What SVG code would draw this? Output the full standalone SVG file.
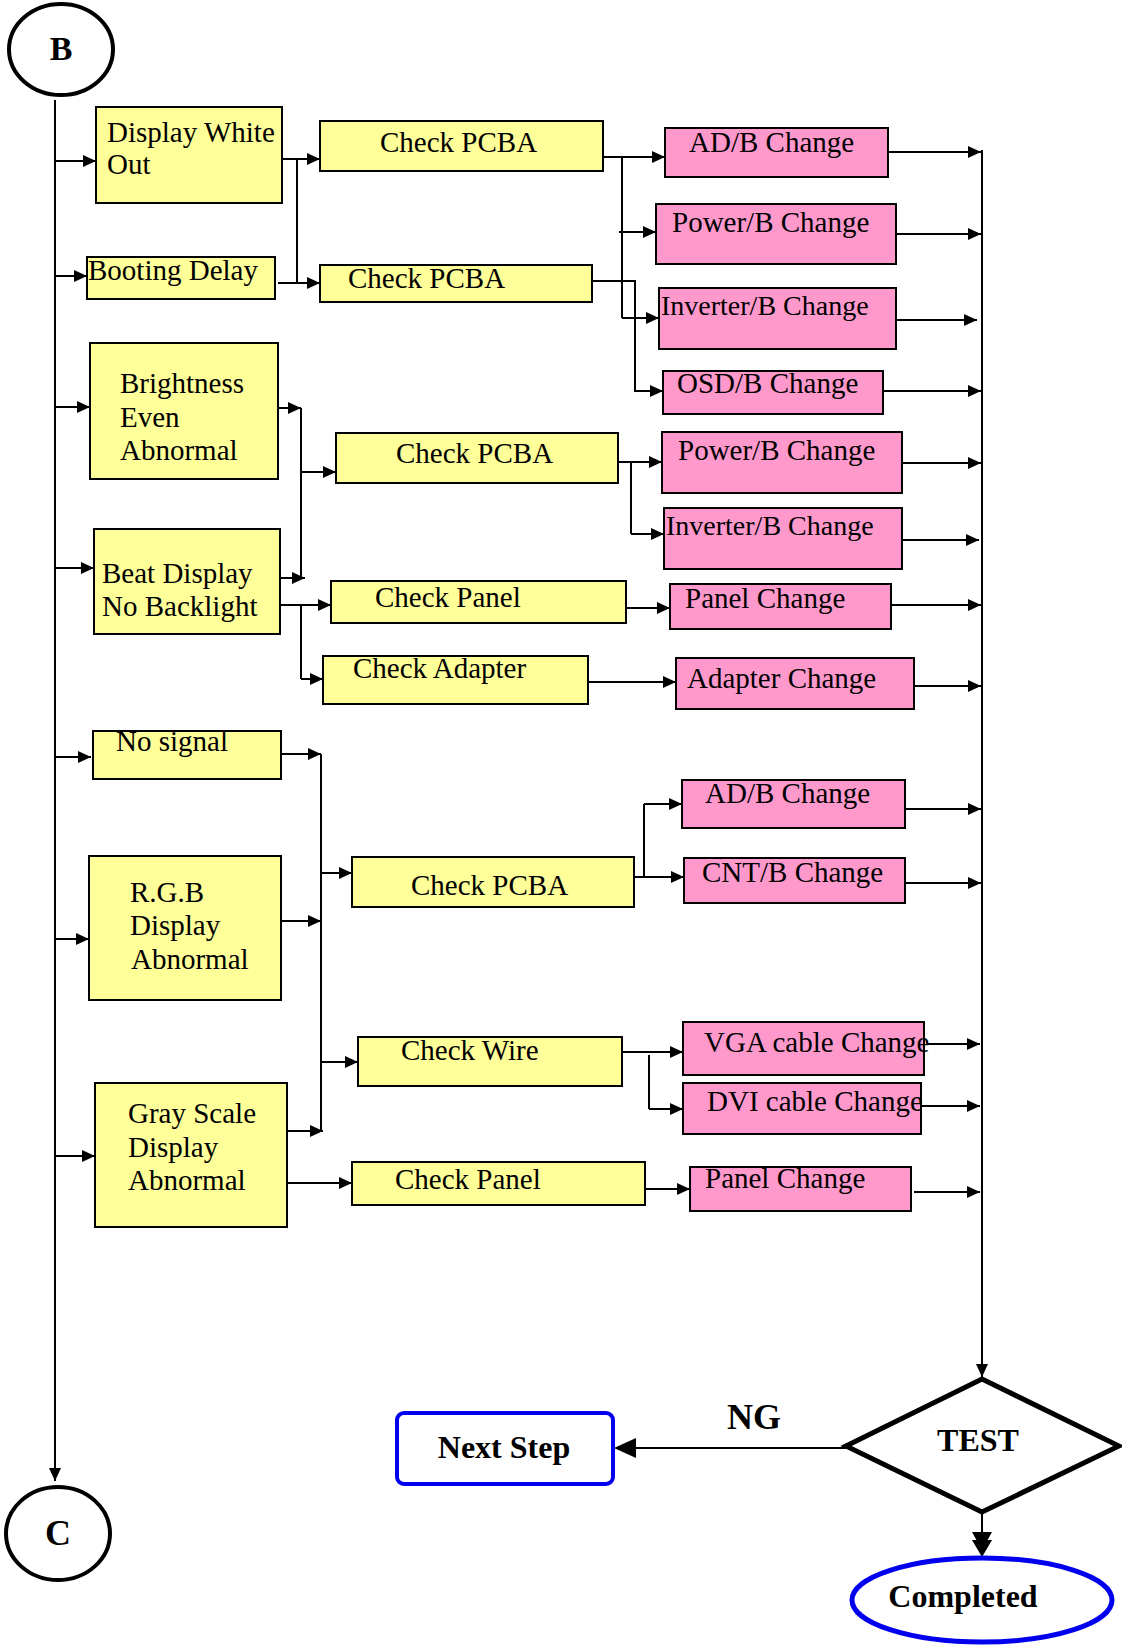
<svg xmlns="http://www.w3.org/2000/svg" width="1122" height="1645" viewBox="0 0 1122 1645">
<style>
.y{fill:#ffff99;stroke:#000;stroke-width:2}
.p{fill:#ff99cc;stroke:#000;stroke-width:2}
.t{font-family:"Liberation Serif","Times New Roman",serif;font-size:29px;fill:#000}
.s{font-size:28px}
.b{font-family:"Liberation Serif","Times New Roman",serif;font-weight:bold;fill:#000}
.c{fill:none;stroke:#000;stroke-width:2}
.a{fill:none;stroke:#000;stroke-width:2;marker-end:url(#ah)}
</style>
<defs>
<marker id="ah" markerUnits="userSpaceOnUse" markerWidth="13" markerHeight="12" refX="13" refY="6" orient="auto">
<path d="M0,0 L13,6 L0,12 z" fill="#000"/>
</marker>
</defs>
<rect width="1122" height="1645" fill="#fff"/>

<g id="connectors">
<path class="a" d="M55,100 V1481"/>
<path class="a" d="M55,161 H96"/>
<path class="a" d="M55,276 H87"/>
<path class="a" d="M55,407 H90"/>
<path class="a" d="M55,568 H94"/>
<path class="a" d="M55,757 H91"/>
<path class="a" d="M55,939 H89"/>
<path class="a" d="M55,1156 H95"/>
<path class="a" d="M280,159 H320"/>
<path class="c" d="M297,159 V283"/>
<path class="a" d="M278,283 H320"/>
<path class="a" d="M603,157 H665"/>
<path class="c" d="M622,157 V318"/>
<path class="a" d="M619,232 H656"/>
<path class="a" d="M622,318 H659"/>
<path class="a" d="M592,281 H635 V391 H663"/>
<path class="a" d="M272,408 H301"/>
<path class="c" d="M301,408 V578"/>
<path class="a" d="M301,472 H336"/>
<path class="a" d="M280,578 H305"/>
<path class="a" d="M280,605 H331"/>
<path class="c" d="M301,605 V679"/>
<path class="a" d="M301,679 H323"/>
<path class="a" d="M618,462 H662"/>
<path class="c" d="M631,462 V534"/>
<path class="a" d="M631,534 H664"/>
<path class="a" d="M626,608 H670"/>
<path class="a" d="M588,682 H676"/>
<path class="a" d="M278,754 H321"/>
<path class="c" d="M321,754 V1132"/>
<path class="a" d="M321,873 H352"/>
<path class="a" d="M281,921 H321"/>
<path class="a" d="M321,1062 H358"/>
<path class="a" d="M283,1131 H323"/>
<path class="a" d="M285,1183 H352"/>
<path class="a" d="M634,877 H684"/>
<path class="c" d="M644,877 V804"/>
<path class="a" d="M644,804 H682"/>
<path class="a" d="M622,1052 H683"/>
<path class="c" d="M649,1055 V1109"/>
<path class="a" d="M649,1109 H683"/>
<path class="a" d="M646,1189 H690"/>
<path class="a" d="M888,152 H981"/>
<path class="a" d="M896,234 H981"/>
<path class="a" d="M896,320 H977"/>
<path class="a" d="M883,391 H981"/>
<path class="a" d="M902,463 H981"/>
<path class="a" d="M902,540 H979"/>
<path class="a" d="M892,605 H981"/>
<path class="a" d="M912,686 H981"/>
<path class="a" d="M905,809 H981"/>
<path class="a" d="M905,883 H981"/>
<path class="a" d="M927,1044 H980"/>
<path class="a" d="M921,1106 H980"/>
<path class="a" d="M914,1192 H980"/>
<path class="a" d="M982,150 V1377"/>
<path class="c" d="M846,1448 H630"/>
<path d="M614,1448 L636,1438 L636,1458 z" fill="#000"/>
<path class="c" d="M982,1512 V1540"/>
<path d="M972,1532 L992,1532 L982,1550 z" fill="#000"/>
<path d="M972,1540 L992,1540 L982,1557 z" fill="#000"/>
</g>

<g id="node-B">
<ellipse cx="61" cy="49.5" rx="52" ry="45.5" fill="#fff" stroke="#000" stroke-width="4"/>
<text class="b" x="61" y="60" font-size="34" text-anchor="middle">B</text>
</g>
<g id="node-C">
<ellipse cx="58" cy="1533.5" rx="52" ry="46.5" fill="#fff" stroke="#000" stroke-width="4"/>
<text class="b" x="58" y="1545" font-size="36" text-anchor="middle">C</text>
</g>

<g id="node-dwo"><rect class="y" x="96" y="107" width="186" height="96"/>
<text class="t" x="107" y="142">Display White</text><text class="t" x="107" y="174">Out</text></g>
<g id="node-booting"><rect class="y" x="87" y="257" width="188" height="42"/>
<text class="t" x="88" y="280">Booting Delay</text></g>
<g id="node-brightness"><rect class="y" x="90" y="343" width="188" height="136"/>
<text class="t" x="120" y="393">Brightness</text><text class="t" x="120" y="427">Even</text><text class="t" x="120" y="460">Abnormal</text></g>
<g id="node-beat"><rect class="y" x="94" y="529" width="186" height="105"/>
<text class="t" x="102" y="583">Beat Display</text><text class="t" x="102" y="616">No Backlight</text></g>
<g id="node-nosignal"><rect class="y" x="93" y="731" width="188" height="48"/>
<text class="t" x="116" y="751">No signal</text></g>
<g id="node-rgb"><rect class="y" x="89" y="856" width="192" height="144"/>
<text class="t" x="130" y="902">R.G.B</text><text class="t" x="130" y="935">Display</text><text class="t" x="131" y="969">Abnormal</text></g>
<g id="node-gray"><rect class="y" x="95" y="1083" width="192" height="144"/>
<text class="t" x="128" y="1123">Gray Scale</text><text class="t" x="128" y="1157">Display</text><text class="t" x="128" y="1190">Abnormal</text></g>

<g id="node-pcba1"><rect class="y" x="320" y="121" width="283" height="50"/><text class="t" x="380" y="152">Check PCBA</text></g>
<g id="node-pcba2"><rect class="y" x="320" y="265" width="272" height="37"/><text class="t" x="348" y="288">Check PCBA</text></g>
<g id="node-pcba3"><rect class="y" x="336" y="433" width="282" height="50"/><text class="t" x="396" y="463">Check PCBA</text></g>
<g id="node-panel1"><rect class="y" x="331" y="581" width="295" height="42"/><text class="t" x="375" y="607">Check Panel</text></g>
<g id="node-adapter"><rect class="y" x="323" y="656" width="265" height="48"/><text class="t" x="353" y="678">Check Adapter</text></g>
<g id="node-pcba4"><rect class="y" x="352" y="857" width="282" height="50"/><text class="t" x="411" y="895">Check PCBA</text></g>
<g id="node-wire"><rect class="y" x="358" y="1037" width="264" height="49"/><text class="t" x="401" y="1060">Check Wire</text></g>
<g id="node-panel2"><rect class="y" x="352" y="1162" width="293" height="43"/><text class="t" x="395" y="1189">Check Panel</text></g>

<g id="node-adb1"><rect class="p" x="665" y="128" width="223" height="49"/><text class="t" x="689" y="152">AD/B Change</text></g>
<g id="node-power1"><rect class="p" x="656" y="204" width="240" height="60"/><text class="t" x="672" y="232">Power/B Change</text></g>
<g id="node-inv1"><rect class="p" x="659" y="288" width="237" height="61"/><text class="t s" x="661" y="315">Inverter/B Change</text></g>
<g id="node-osd"><rect class="p" x="663" y="371" width="220" height="43"/><text class="t" x="677" y="393">OSD/B Change</text></g>
<g id="node-power2"><rect class="p" x="662" y="432" width="240" height="61"/><text class="t" x="678" y="460">Power/B Change</text></g>
<g id="node-inv2"><rect class="p" x="664" y="508" width="238" height="61"/><text class="t s" x="666" y="535">Inverter/B Change</text></g>
<g id="node-panelchg1"><rect class="p" x="670" y="584" width="221" height="45"/><text class="t" x="685" y="608">Panel Change</text></g>
<g id="node-adapterchg"><rect class="p" x="676" y="658" width="238" height="51"/><text class="t" x="687" y="688">Adapter Change</text></g>
<g id="node-adb2"><rect class="p" x="682" y="780" width="223" height="48"/><text class="t" x="705" y="803">AD/B Change</text></g>
<g id="node-cnt"><rect class="p" x="684" y="858" width="221" height="45"/><text class="t" x="702" y="882">CNT/B Change</text></g>
<g id="node-vga"><rect class="p" x="683" y="1022" width="241" height="53"/><text class="t" x="704" y="1052">VGA cable Change</text></g>
<g id="node-dvi"><rect class="p" x="683" y="1083" width="238" height="51"/><text class="t" x="707" y="1111">DVI cable Change</text></g>
<g id="node-panelchg2"><rect class="p" x="690" y="1167" width="221" height="44"/><text class="t" x="705" y="1188">Panel Change</text></g>

<g id="node-test">
<polygon points="982,1379 1119,1446 982,1512 846,1446" fill="#fff" stroke="#000" stroke-width="5"/>
<text class="b" x="978" y="1451" font-size="32" text-anchor="middle">TEST</text>
</g>
<g id="label-ng"><text class="b" x="754" y="1429" font-size="36" text-anchor="middle">NG</text></g>
<g id="node-next">
<rect x="397" y="1413" width="216" height="71" rx="7" fill="#fff" stroke="#0000ee" stroke-width="4"/>
<text class="b" x="504" y="1458" font-size="32" text-anchor="middle">Next Step</text>
</g>
<g id="node-completed">
<ellipse cx="982" cy="1600" rx="130" ry="42" fill="#fff" stroke="#0000ee" stroke-width="5"/>
<text class="b" x="963" y="1607" font-size="32" text-anchor="middle">Completed</text>
</g>
</svg>
